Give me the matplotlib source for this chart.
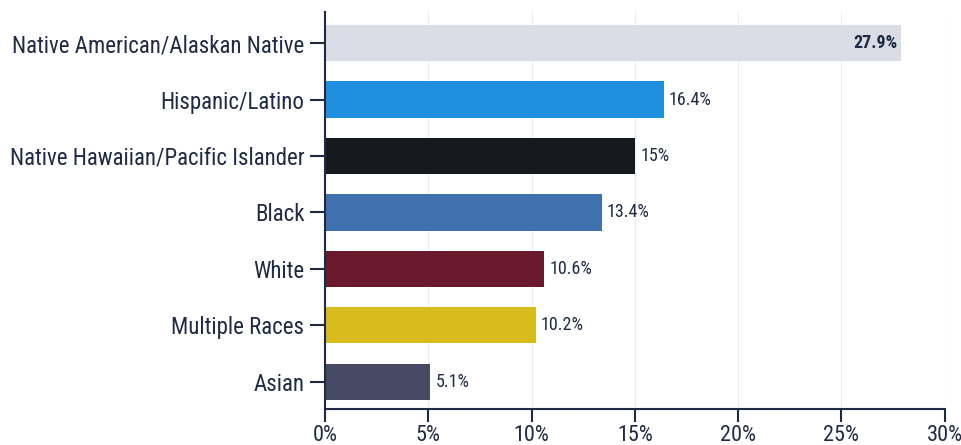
import matplotlib
matplotlib.use("Agg")
import matplotlib.pyplot as plt

groups = ["Native American/Alaskan Native", "Hispanic/Latino",
          "Native Hawaiian/Pacific Islander", "Black", "White",
          "Multiple Races", "Asian"]
rates = [27.9, 16.4, 15.0, 13.4, 10.6, 10.2, 5.1]
rate_labels = ["27.9%", "16.4%", "15%", "13.4%", "10.6%", "10.2%", "5.1%"]
bar_colors = ["#dadce6", "#1f8fe0", "#16191e", "#3e71ad",
              "#6b1a2d", "#d8bb1c", "#454a62"]
xticks = [0, 5, 10, 15, 20, 25, 30]

text_color = "#1f2a44"
plt.rcParams['font.family'] = ['Roboto Condensed', 'Roboto', 'DejaVu Sans']

fig = plt.figure(figsize=(9.62, 4.45), dpi=100)
ax = fig.add_axes([0.338, 0.081, 0.644, 0.892])

y = list(range(len(groups)))
ax.barh(y, rates, height=0.64, color=bar_colors, zorder=2)

# value labels: first one sits inside the bar, the rest just past the end
for i, (v, lab) in enumerate(zip(rates, rate_labels)):
    if i == 0:
        ax.text(v - 0.2, i, lab, ha='right', va='center', fontsize=13,
                color=text_color, fontweight=600, zorder=3)
    else:
        ax.text(v + 0.25, i, lab, ha='left', va='center', fontsize=13,
                color=text_color, zorder=3)

ax.set_xlim(0, 30)
ax.set_ylim(6.48, -0.55)
ax.set_yticks(y)
ax.set_yticklabels(groups)
ax.set_xticks(xticks)
ax.set_xticklabels([f"{t}%" for t in xticks])

ax.xaxis.grid(True, color="#ececf0", linewidth=0.8, zorder=0)
ax.set_axisbelow(True)

for s in ['top', 'right']:
    ax.spines[s].set_visible(False)
for s in ['left', 'bottom']:
    ax.spines[s].set_color(text_color)
    ax.spines[s].set_linewidth(1.5)

ax.tick_params(axis='y', length=11, width=1.5, color=text_color,
               labelsize=16.5, labelcolor=text_color, pad=4)
ax.tick_params(axis='x', length=9.5, width=1.5, color=text_color,
               labelsize=16, labelcolor=text_color, pad=2)

fig.savefig("out.png", dpi=100, facecolor="white")
